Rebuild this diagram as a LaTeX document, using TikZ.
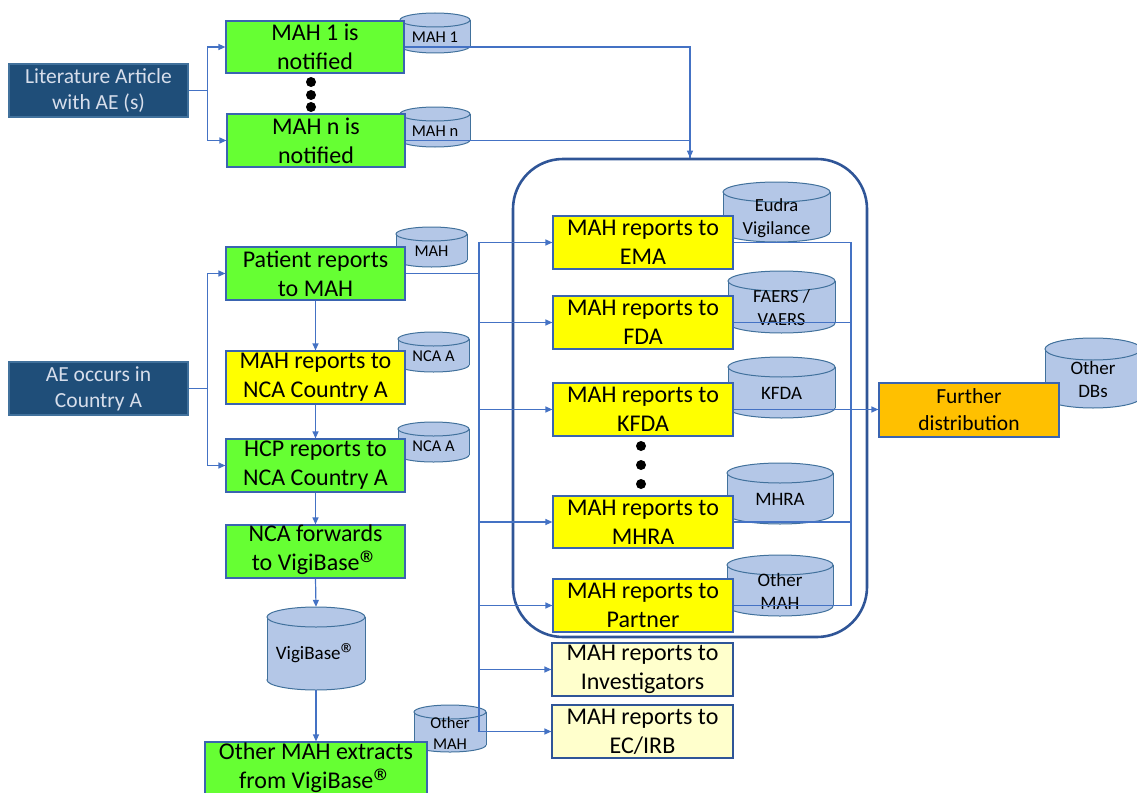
\documentclass[tikz,border=0pt]{standalone}
\usepackage{fontspec}
\setmainfont{Carlito}
\usetikzlibrary{arrows.meta,calc}
\definecolor{gbox}{RGB}{102,255,51}
\definecolor{ybox}{RGB}{255,255,0}
\definecolor{lybox}{RGB}{255,255,204}
\definecolor{obox}{RGB}{255,192,0}
\definecolor{dbox}{RGB}{31,78,121}
\definecolor{cylf}{RGB}{180,199,231}
\definecolor{cyld}{RGB}{65,113,156}
\definecolor{conc}{RGB}{68,114,196}
\definecolor{regc}{RGB}{47,85,151}
\definecolor{boxd}{RGB}{58,100,176}
\definecolor{littxt}{RGB}{215,222,235}
\newcommand\rmark{\raisebox{-.30em}{\scalebox{1.6}{®}}}
\tikzset{
  box/.style={draw=boxd, line width=1.2pt, inner sep=0pt, align=center,
    font=\fontsize{24}{29}\selectfont},
  srcbox/.style={box, fill=dbox, draw=cyld, text=littxt,
    font=\fontsize{21.5}{26}\selectfont, minimum width=179pt, minimum height=53pt},
  cylpart/.style={fill=cylf, draw=cyld, line width=1pt},
  conn/.style={draw=conc, line width=1.2pt, -{Triangle[length=7pt,width=6pt]}},
  plain/.style={draw=conc, line width=1.2pt},
  region/.style={draw=regc, line width=2.6pt, rounded corners=50pt, inner sep=0pt},
  dotty/.style={fill=black}
}
\newcommand\mycyl[8]{%
  \pgfmathsetmacro\cxa{(#2+#4)/2}%
  \pgfmathsetmacro\rxa{(#4-#2)/2}%
  \pgfmathsetmacro\lsa{#7*1.25}%
  \filldraw[cylpart] (\cxa,#5-#6) ellipse [x radius=\rxa pt, y radius=#6 pt];
  \fill[cylf] (#2,#3+#6) rectangle (#4,#5-#6);
  \draw[draw=cyld, line width=1pt] (#2,#3+#6) -- (#2,#5-#6) (#4,#3+#6) -- (#4,#5-#6);
  \filldraw[cylpart] (\cxa,#3+#6) ellipse [x radius=\rxa pt, y radius=#6 pt];
  \node[inner sep=0pt, minimum width={(#4-#2)*1pt}, minimum height={(#5-#3)*1pt}] (#1) at (\cxa,{(#3+#5)/2}) {};
  \node[inner sep=0pt, align=center, font=\fontsize{#7}{\lsa}\selectfont] (#1-t) at ($(#1.center)+(0,#6/2+1)$) {#8};
}
\begin{document}
\begin{tikzpicture}[x=1pt,y=-1pt]
\useasboundingbox (0,0) rectangle (1137,792);
\clip (0,0) rectangle (1137,792);
% region
\node[region, minimum width=354pt, minimum height=478pt] (reg) at (690,398) {};
% cylinders
\mycyl{c1}{400}{13}{470}{53}{7}{16.5}{MAH 1}
\mycyl{cn}{400}{107}{470}{147}{7}{16.5}{MAH n}
\mycyl{cmah}{396}{227}{467}{267}{7}{16.5}{MAH}
\mycyl{cnca1}{398}{332}{469}{372}{7}{16.5}{NCA A}
\mycyl{cnca2}{398}{422}{469}{462}{7}{16.5}{NCA A}
\mycyl{vb}{267}{607}{365}{690}{10}{19}{VigiBase\rmark}
\mycyl{comah}{414}{705}{486}{752}{7}{16.5}{Other\\MAH}
\mycyl{ceu}{723}{182}{830}{242}{10}{18.5}{Eudra\\Vigilance}
\mycyl{cfa}{728}{271}{835}{333}{10}{18.5}{FAERS /\\VAERS}
\mycyl{ckf}{728}{357}{835}{418}{10}{19}{KFDA}
\mycyl{cmh}{727}{463}{833}{524}{10}{19}{MHRA}
\mycyl{cot}{727}{555}{833}{616}{10}{19}{Other\\MAH}
\mycyl{cdb}{1045}{338}{1141}{408}{11}{19}{Other\\DBs}
% source boxes
\node[srcbox] (lit) at (98.5,90.5) {Literature Article\\with AE (s)};
\node[srcbox] (ae) at (98.5,388.5) {AE occurs in\\Country A};
% left column
\node[box, fill=gbox, minimum width=178pt, minimum height=52pt] (mah1) at (315,47) {MAH 1 is\\notified};
\node[box, fill=gbox, minimum width=178pt, minimum height=53pt] (mahn) at (316,140.5) {MAH n is\\notified};
\node[box, fill=gbox, minimum width=179pt, minimum height=53pt] (pat) at (315.5,273.5) {Patient reports\\to MAH};
\node[box, fill=ybox, minimum width=179pt, minimum height=53pt] (mnca) at (315.5,377.5) {MAH reports to\\NCA Country A};
\node[box, fill=gbox, minimum width=179pt, minimum height=53pt] (hcp) at (315.5,465.5) {HCP reports to\\NCA Country A};
\node[box, fill=gbox, minimum width=179pt, minimum height=53pt] (nfw) at (315.5,551.5) {NCA forwards\\to VigiBase\rmark};
\node[box, fill=gbox, minimum width=222pt, minimum height=54pt] (ome) at (316,769) {Other MAH extracts\\from VigiBase\rmark};
% right column
\node[box, fill=ybox, minimum width=180pt, minimum height=53pt] (ema) at (643,242.5) {MAH reports to\\EMA};
\node[box, fill=ybox, minimum width=180pt, minimum height=53pt] (fda) at (643,322.5) {MAH reports to\\FDA};
\node[box, fill=ybox, minimum width=180pt, minimum height=53pt] (kfda) at (643,409.5) {MAH reports to\\KFDA};
\node[box, fill=ybox, minimum width=180pt, minimum height=52pt] (mhra) at (643,522) {MAH reports to\\MHRA};
\node[box, fill=ybox, minimum width=180pt, minimum height=53pt] (partner) at (643,605.5) {MAH reports to\\Partner};
\node[box, fill=lybox, draw=regc, minimum width=181pt, minimum height=53pt] (inv) at (642.5,669.5) {MAH reports to\\Investigators};
\node[box, fill=lybox, draw=regc, minimum width=181pt, minimum height=53pt] (ec) at (642.5,731.5) {MAH reports to\\EC/IRB};
\node[box, fill=obox, font=\fontsize{21.5}{27}\selectfont, minimum width=180pt, minimum height=54pt] (fur) at (969,410) {Further\\distribution};
% connectors
\draw[conn] (lit.east) -- ++(19,0) |- (mah1.west);
\draw[conn] (lit.east) -- ++(19,0) |- (mahn.west);
\draw[conn] (ae.east) -- ++(19,0) |- (pat.west);
\draw[conn] (ae.east) -- ++(19,0) |- (hcp.west);
\draw[conn] (mah1.east) -| (reg.north);
\draw[plain] (mahn.east) -| (reg.north);
\draw[conn] (pat.south) -- (mnca.north);
\draw[conn] (mnca.south) -- (hcp.north);
\draw[conn] (hcp.south) -- (nfw.north);
\draw[conn] (nfw.south) -- (vb.north);
\draw[conn] (vb.south) -- (ome.north);
\coordinate (bus) at (479,273.5);
\draw[plain, line width=1.7pt] (pat.east) -- (bus);
\draw[conn] (bus) |- (ema.west);
\draw[conn] (bus) |- (fda.west);
\draw[conn] (bus) |- (kfda.west);
\draw[conn] (bus) |- (mhra.west);
\draw[conn] (bus) |- (partner.west);
\draw[conn] (bus) |- (inv.west);
\draw[conn] (bus) |- (ec.west);
\coordinate (rbus) at (851,409.5);
\draw[plain] (ema.east) -| (rbus);
\draw[plain] (fda.east) -| (rbus);
\draw[plain] (mhra.east) -| (rbus);
\draw[plain] (partner.east) -| (rbus);
\draw[conn] (kfda.east) -- (kfda.east -| fur.west);
% dots
\fill[dotty] (311,82) circle (5pt) (311,95) circle (5pt) (311,107) circle (5pt);
\fill[dotty] (641,446) circle (5pt) (641,465) circle (5pt) (641,484) circle (5pt);
\end{tikzpicture}
\end{document}
